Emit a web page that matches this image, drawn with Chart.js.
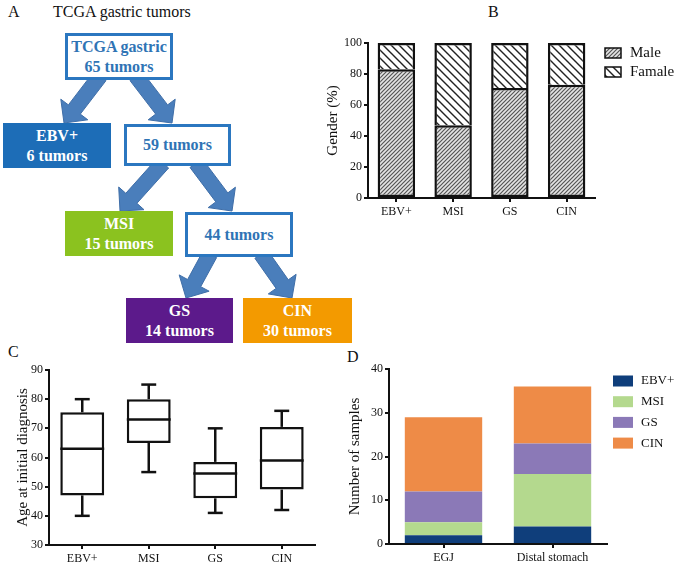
<!DOCTYPE html>
<html lang="en">
<head>
<meta charset="UTF-8">
<title>TCGA gastric tumors</title>
<script src="https://cdn.jsdelivr.net/npm/chart.js"></script>
<style>
  body { margin: 0; background: #fff; font-family: "Liberation Serif", "Times New Roman", serif; }
  #page { position: relative; width: 677px; height: 569px; overflow: hidden; }
  .lbl { position: absolute; font-size: 16px; color: #111; line-height: 18px; }
  .box { position: absolute; box-sizing: border-box; display: flex; align-items: center; justify-content: center;
         text-align: center; font-weight: bold; font-size: 16px; line-height: 20px; }
  .open { border: 3px solid #2b77c0; color: #2f74b5; background: #fff; }
  .fill { color: #fff; }
  canvas, svg { position: absolute; }
</style>
</head>
<body>
<div id="page">
  <svg id="arrows" width="360" height="345" style="left:0;top:0"></svg>

  <div class="lbl" style="left:8px;top:3px">A</div>
  <div class="lbl" style="left:53px;top:3px">TCGA gastric tumors</div>
  <div class="lbl" style="left:488px;top:3px">B</div>
  <div class="lbl" style="left:8px;top:343px">C</div>
  <div class="lbl" style="left:347px;top:348px">D</div>

  <div class="box open" style="left:65px;top:33px;width:108px;height:47px">TCGA gastric<br>65 tumors</div>
  <div class="box fill" style="left:3px;top:123px;width:108px;height:45px;background:#1d6db7">EBV+<br>6 tumors</div>
  <div class="box open" style="left:124px;top:124px;width:107px;height:42px">59 tumors</div>
  <div class="box fill" style="left:65px;top:211px;width:108px;height:45px;background:#8bc21f">MSI<br>15 tumors</div>
  <div class="box open" style="left:185px;top:212px;width:108px;height:45px">44 tumors</div>
  <div class="box fill" style="left:126px;top:298px;width:107px;height:45px;background:#5c1a8b">GS<br>14 tumors</div>
  <div class="box fill" style="left:243px;top:298px;width:109px;height:45px;background:#f39a00">CIN<br>30 tumors</div>

  <canvas id="chartB" width="357" height="200" style="left:320px;top:30px"></canvas>
  <canvas id="chartC" width="330" height="219" style="left:0;top:350px"></canvas>
  <canvas id="chartD" width="337" height="219" style="left:340px;top:350px"></canvas>
</div>

<script>
  // panel B: gender split (%)
  const genderCats = ['EBV+', 'MSI', 'GS', 'CIN'];
  const malePct = [83, 47, 71, 73];
  const femalePct = [17, 53, 29, 27];

  // panel C: age at initial diagnosis (box plot)
  const ageCats = ['EBV+', 'MSI', 'GS', 'CIN'];
  const ageMin = [40, 55, 41, 42];
  const ageQ1 = [47, 65, 46, 49];
  const ageMed = [63, 73, 54.5, 59];
  const ageQ3 = [75.5, 80, 58.5, 70.5];
  const ageMax = [80, 85, 70, 76];

  // panel D: number of samples by site
  const siteCats = ['EGJ', 'Distal stomach'];
  const ebvCounts = [2, 4];
  const msiCounts = [3, 12];
  const gsCounts = [7, 7];
  const cinCounts = [17, 13];

  const serif = '"Liberation Serif", "Times New Roman", serif';
  const ink = '#111';

  // arrows of the flow chart in panel A
  function arrow(x1, y1, x2, y2) {
    const w = 15, hw = 34, hl = 17;
    const len = Math.hypot(x2 - x1, y2 - y1);
    const ux = (x2 - x1) / len, uy = (y2 - y1) / len;
    const nx = -uy, ny = ux;
    const bx = x2 - ux * hl, by = y2 - uy * hl;
    const pts = [
      [x1 + nx * w / 2, y1 + ny * w / 2], [bx + nx * w / 2, by + ny * w / 2], [bx + nx * hw / 2, by + ny * hw / 2],
      [x2, y2],
      [bx - nx * hw / 2, by - ny * hw / 2], [bx - nx * w / 2, by - ny * w / 2], [x1 - nx * w / 2, y1 - ny * w / 2]
    ];
    const p = document.createElementNS('http://www.w3.org/2000/svg', 'polygon');
    p.setAttribute('points', pts.map(q => q[0].toFixed(1) + ',' + q[1].toFixed(1)).join(' '));
    p.setAttribute('fill', '#4a7ebb');
    p.setAttribute('stroke', '#3f6ea8');
    p.setAttribute('stroke-width', '1');
    document.getElementById('arrows').appendChild(p);
  }
  arrow(100, 76, 64, 123);
  arrow(136, 76, 172, 123);
  arrow(163, 163, 120, 211);
  arrow(196, 163, 232, 211);
  arrow(210, 254, 186, 298);
  arrow(261, 254, 292, 298);

  function hatch(dir, s, color, lw, bg) {
    const c = document.createElement('canvas');
    c.width = s; c.height = s;
    const g = c.getContext('2d');
    g.fillStyle = bg; g.fillRect(0, 0, s, s);
    g.strokeStyle = color; g.lineWidth = lw;
    g.beginPath();
    if (dir === '/') {
      g.moveTo(-1, s + 1); g.lineTo(s + 1, -1);
      g.moveTo(-1, 1); g.lineTo(1, -1);
      g.moveTo(s - 1, s + 1); g.lineTo(s + 1, s - 1);
    } else {
      g.moveTo(-1, -1); g.lineTo(s + 1, s + 1);
      g.moveTo(s - 1, -1); g.lineTo(s + 1, 1);
      g.moveTo(-1, s - 1); g.lineTo(1, s + 1);
    }
    g.stroke();
    return g.createPattern(c, 'repeat');
  }

  // legend drawn to the right of the plot area
  const sideLegend = {
    id: 'sideLegend',
    afterDraw(chart, args, o) {
      const ctx = chart.ctx, area = chart.chartArea;
      ctx.save();
      ctx.font = o.size + 'px ' + serif;
      ctx.textBaseline = 'middle';
      chart.data.datasets.forEach((ds, i) => {
        const x = area.right + o.dx, y = area.top + o.dy + i * o.gap;
        ctx.fillStyle = ds.backgroundColor;
        ctx.fillRect(x, y - o.h / 2, o.w, o.h);
        if (o.border) {
          ctx.lineWidth = o.border; ctx.strokeStyle = ink;
          ctx.strokeRect(x, y - o.h / 2, o.w, o.h);
        }
        ctx.fillStyle = ink;
        ctx.fillText(ds.label, x + o.w + o.textGap, y);
      });
      ctx.restore();
    }
  };

  function axes(yWidth, xHeight, titleText, titlePad, yMin, yMax, step, stacked) {
    const line = { color: ink, width: 2 };
    const grid = { drawOnChartArea: false, tickLength: 4, color: ink, lineWidth: 2, offset: false };
    return {
      x: {
        stacked: stacked, border: line, grid: grid,
        ticks: { color: ink, font: { family: serif, size: 12 }, padding: 3 },
        afterFit: s => { s.height = xHeight; }
      },
      y: {
        stacked: stacked, min: yMin, max: yMax, border: line, grid: grid,
        ticks: { stepSize: step, color: ink, font: { family: serif, size: 12 }, padding: 2 },
        title: { display: true, text: titleText, color: ink, font: { family: serif, size: 15 }, padding: { top: titlePad, bottom: 0 } },
        afterFit: s => { s.width = yWidth; }
      }
    };
  }

  // ---- B
  const ctxB = document.getElementById('chartB').getContext('2d');
  new Chart(ctxB, {
    type: 'bar',
    data: {
      labels: genderCats,
      datasets: [
        { label: 'Male', data: malePct, backgroundColor: hatch('/', 4, '#555', 1.2, '#e4e4e4'),
          borderColor: ink, borderWidth: 2.5, borderSkipped: false },
        { label: 'Famale', data: femalePct, backgroundColor: hatch('\\', 8, '#222', 1.4, '#fff'),
          borderColor: ink, borderWidth: 2.5, borderSkipped: 'bottom' }
      ]
    },
    options: {
      responsive: false, animation: false,
      layout: { padding: { top: 13, right: 82, left: 0, bottom: 0 } },
      datasets: { bar: { categoryPercentage: 1, barPercentage: 0.66 } },
      plugins: {
        legend: { display: false }, tooltip: { enabled: false },
        sideLegend: { dx: 10, dy: 10, gap: 19, w: 16, h: 10, border: 1.5, textGap: 9, size: 15 }
      },
      scales: axes(48, 32, 'Gender (%)', 4, 0, 100, 20, true)
    },
    plugins: [sideLegend]
  });

  // ---- C
  const whiskers = {
    id: 'whiskers',
    afterDatasetsDraw(chart) {
      const ctx = chart.ctx, y = chart.scales.y;
      const meta = chart.getDatasetMeta(0);
      ctx.save();
      ctx.strokeStyle = ink; ctx.lineWidth = 2.5; ctx.lineCap = 'butt';
      const seg = (a, b, c, d) => { ctx.beginPath(); ctx.moveTo(a, b); ctx.lineTo(c, d); ctx.stroke(); };
      meta.data.forEach((bar, i) => {
        const x = bar.x, hw = bar.width / 2, cap = bar.width * 0.17;
        seg(x - hw, y.getPixelForValue(ageMed[i]), x + hw, y.getPixelForValue(ageMed[i]));
        seg(x, y.getPixelForValue(ageQ3[i]), x, y.getPixelForValue(ageMax[i]));
        seg(x, y.getPixelForValue(ageQ1[i]), x, y.getPixelForValue(ageMin[i]));
        seg(x - cap, y.getPixelForValue(ageMax[i]), x + cap, y.getPixelForValue(ageMax[i]));
        seg(x - cap, y.getPixelForValue(ageMin[i]), x + cap, y.getPixelForValue(ageMin[i]));
      });
      ctx.restore();
    }
  };

  new Chart(document.getElementById('chartC'), {
    type: 'bar',
    data: {
      labels: ageCats,
      datasets: [{
        data: ageQ1.map((q, i) => [q, ageQ3[i]]),
        backgroundColor: '#fff', borderColor: ink, borderWidth: 2.5, borderSkipped: false
      }]
    },
    options: {
      responsive: false, animation: false,
      layout: { padding: { top: 20, right: 15, left: 0, bottom: 0 } },
      datasets: { bar: { categoryPercentage: 1, barPercentage: 0.66 } },
      plugins: { legend: { display: false }, tooltip: { enabled: false } },
      scales: axes(49, 24, 'Age at initial diagnosis', 14, 30, 90, 10, false)
    },
    plugins: [whiskers]
  });

  // ---- D
  new Chart(document.getElementById('chartD'), {
    type: 'bar',
    data: {
      labels: siteCats,
      datasets: [
        { label: 'EBV+', data: ebvCounts, backgroundColor: '#0f3e7b' },
        { label: 'MSI', data: msiCounts, backgroundColor: '#b4d98e' },
        { label: 'GS', data: gsCounts, backgroundColor: '#8b79b7' },
        { label: 'CIN', data: cinCounts, backgroundColor: '#ee8b47' }
      ]
    },
    options: {
      responsive: false, animation: false,
      layout: { padding: { top: 19, right: 70, left: 0, bottom: 0 } },
      datasets: { bar: { categoryPercentage: 1, barPercentage: 0.71 } },
      plugins: {
        legend: { display: false }, tooltip: { enabled: false },
        sideLegend: { dx: 6, dy: 12, gap: 20.7, w: 20, h: 11, border: 0, textGap: 8, size: 13 }
      },
      scales: axes(49, 25, 'Number of samples', 6, 0, 40, 10, true)
    },
    plugins: [sideLegend]
  });
</script>
</body>
</html>
